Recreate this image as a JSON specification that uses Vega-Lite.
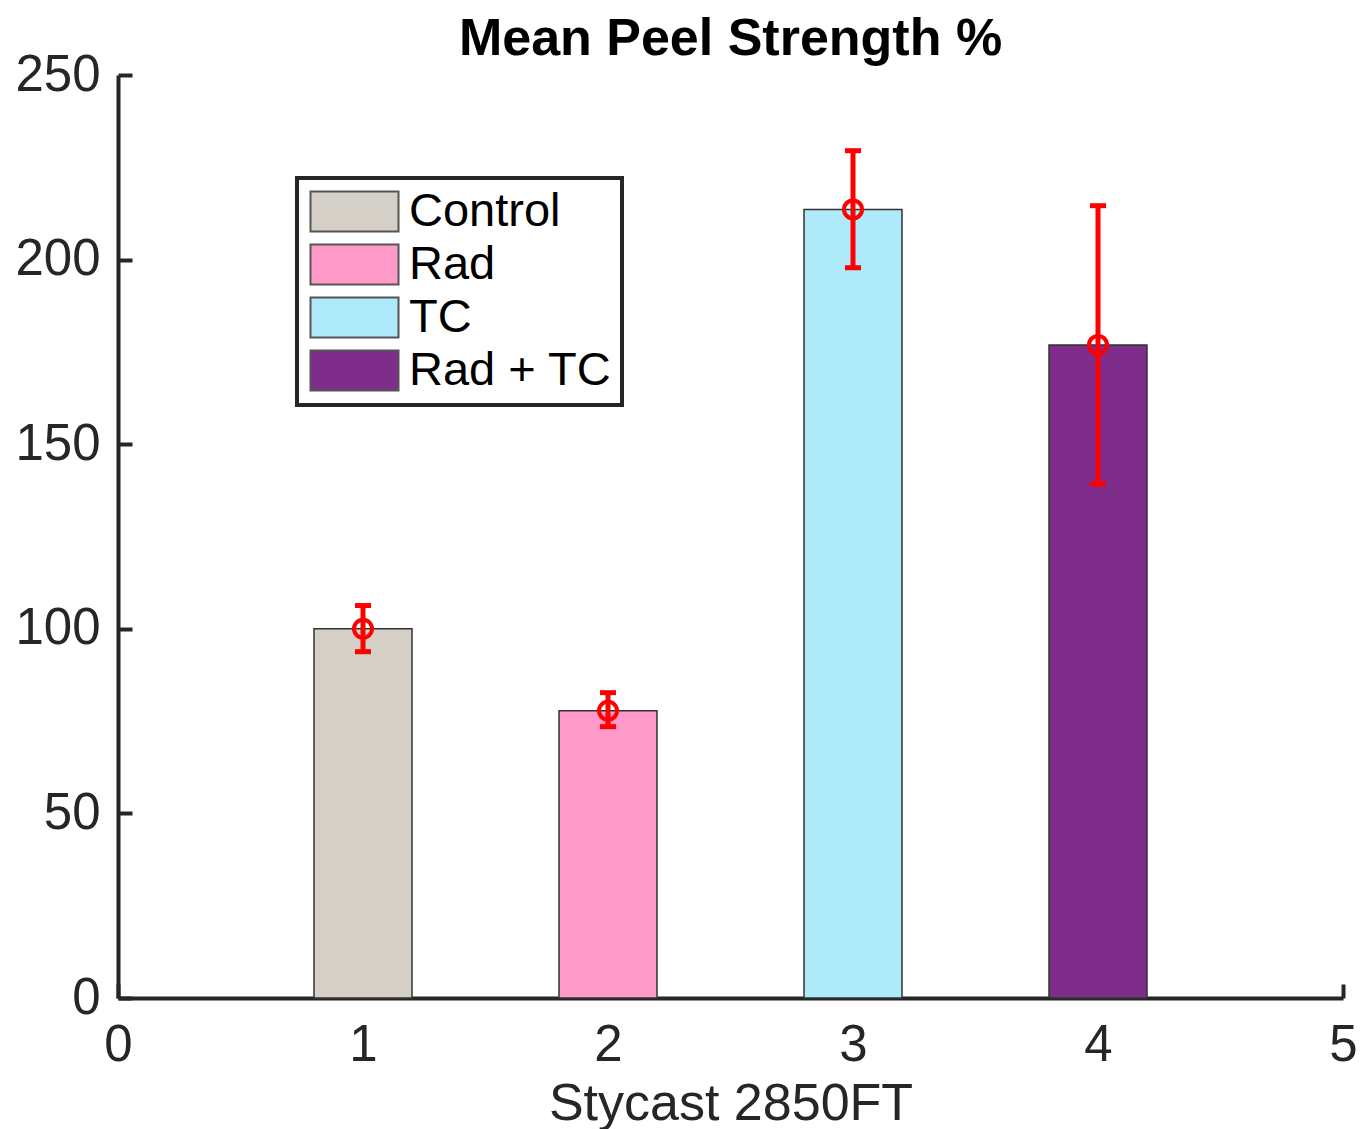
{
  "$schema": "https://vega.github.io/schema/vega-lite/v6.json",
  "width": 1225,
  "height": 923,
  "autosize": {"type": "none"},
  "padding": {"left": 118, "top": 75, "right": 19, "bottom": 131},
  "background": "white",
  "title": {
    "text": "Mean Peel Strength %",
    "font": "Liberation Sans",
    "fontSize": 52,
    "fontWeight": "bold",
    "color": "#000000",
    "anchor": "middle",
    "frame": "group",
    "baseline": "alphabetic",
    "offset": -58
  },
  "config": {
    "view": {"stroke": null},
    "font": "Liberation Sans"
  },
  "data": {
    "values": [
      {"x": 1, "group": "Control", "mean": 100, "lo": 93.8, "hi": 106.3},
      {"x": 2, "group": "Rad", "mean": 77.8, "lo": 73.5, "hi": 82.7},
      {"x": 3, "group": "TC", "mean": 213.6, "lo": 197.8, "hi": 229.5},
      {"x": 4, "group": "Rad + TC", "mean": 176.9, "lo": 139.2, "hi": 214.6}
    ]
  },
  "layer": [
    {
      "mark": {"type": "bar", "size": 98, "stroke": "#333333", "strokeWidth": 1.5, "opacity": 1},
      "encoding": {
        "x": {
          "field": "x", "type": "quantitative",
          "scale": {"domain": [0, 5], "nice": false, "zero": false, "padding": 0},
          "axis": {
            "values": [0, 1, 2, 3, 4, 5],
            "format": "d",
            "title": "Stycast 2850FT",
            "titleFont": "Liberation Sans",
            "titleFontSize": 52,
            "titleFontWeight": "normal",
            "titleColor": "#262626",
            "titlePadding": 8,
            "labelFont": "Liberation Sans",
            "labelFontSize": 51,
            "labelColor": "#262626",
            "labelPadding": 36,
            "labelFlush": false,
            "labelOverlap": false,
            "domainColor": "#262626",
            "domainWidth": 4,
            "tickColor": "#262626",
            "tickWidth": 4,
            "tickSize": -14,
            "grid": false
          }
        },
        "y": {
          "field": "mean", "type": "quantitative",
          "scale": {"domain": [0, 250], "nice": false, "padding": 0},
          "axis": {
            "values": [0, 50, 100, 150, 200, 250],
            "title": null,
            "labelFont": "Liberation Sans",
            "labelFontSize": 51,
            "labelColor": "#262626",
            "labelPadding": 32,
            "labelFlush": false,
            "labelOverlap": false,
            "domainColor": "#262626",
            "domainWidth": 4,
            "tickColor": "#262626",
            "tickWidth": 4,
            "tickSize": -14,
            "grid": false
          }
        },
        "fill": {
          "field": "group", "type": "nominal",
          "scale": {
            "domain": ["Control", "Rad", "TC", "Rad + TC"],
            "range": ["#d4d0c8", "#ff99c8", "#aeeafa", "#7e2d8b"]
          },
          "legend": {
            "title": null,
            "orient": "none",
            "legendX": 179,
            "legendY": 103,
            "direction": "vertical",
            "symbolType": "M-1,-1H3.4V1H-1Z",
            "symbolSize": 1600,
            "symbolStrokeColor": "#555555",
            "symbolStrokeWidth": 2,
            "symbolOpacity": 1,
            "labelFont": "Liberation Sans",
            "labelFontSize": 47,
            "labelColor": "#000000",
            "labelOffset": 55,
            "labelLimit": 400,
            "rowPadding": 4,
            "padding": 10,
            "strokeColor": "#262626",
            "fillColor": "#ffffff",
            "encode": {"legend": {"update": {"strokeWidth": {"value": 4}}}}
          }
        }
      }
    },
    {
      "mark": {"type": "rule", "color": "#ff0000", "strokeWidth": 5},
      "encoding": {
        "x": {"field": "x", "type": "quantitative"},
        "y": {"field": "lo", "type": "quantitative"},
        "y2": {"field": "hi"}
      }
    },
    {
      "mark": {"type": "tick", "orient": "horizontal", "color": "#ff0000", "size": 16, "thickness": 5, "opacity": 1},
      "encoding": {
        "x": {"field": "x", "type": "quantitative"},
        "y": {"field": "lo", "type": "quantitative"}
      }
    },
    {
      "mark": {"type": "tick", "orient": "horizontal", "color": "#ff0000", "size": 16, "thickness": 5, "opacity": 1},
      "encoding": {
        "x": {"field": "x", "type": "quantitative"},
        "y": {"field": "hi", "type": "quantitative"}
      }
    },
    {
      "mark": {"type": "point", "shape": "circle", "filled": false, "stroke": "#ff0000", "strokeWidth": 4, "size": 324, "opacity": 1},
      "encoding": {
        "x": {"field": "x", "type": "quantitative"},
        "y": {"field": "mean", "type": "quantitative"}
      }
    }
  ]
}
